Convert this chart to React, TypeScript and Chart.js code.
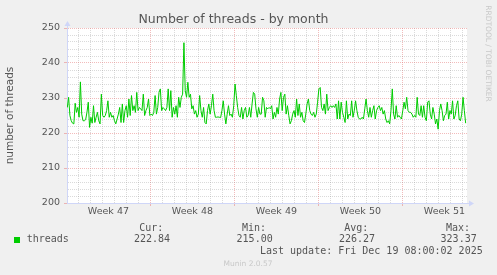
import React, { useEffect, useRef } from "react";
import { Chart, registerables } from "chart.js";

Chart.register(...registerables);

// ---------- data ----------
const TITLE = "Number of threads - by month";
const Y_TITLE = "number of threads";
const SERIES_NAME = "threads";
const WEEK_LABELS = ["Week 47", "Week 48", "Week 49", "Week 50", "Week 51"];
const Y_MIN = 200;
const Y_MAX = 250;
const STAT_NAMES = ["Cur:", "Min:", "Avg:", "Max:"];
const STAT_VALUES = ["222.84", "215.00", "226.27", "323.37"];
const LAST_UPDATE = "Last update: Fri Dec 19 08:00:02 2025";
const FOOTER = "Munin 2.0.57";
const SIDE_TEXT = "RRDTOOL / TOBI OETIKER";

// time axis in days from the left edge of the graph
const X_MAX_DAYS = 33.333;
const WEEK47_START_DAY = -0.05;
const FIRST_SAMPLE_DAY = 0.025;
const SAMPLE_STEP_DAYS = 0.1092;

const threads = [
  // week 47 / start of 48
  227.3, 230.2, 225.0, 223.5, 222.8, 222.6, 228.5, 225.9, 227.3, 224.5, 234.6, 225.4, 223.5, 223.5, 223.8,
  225.9, 228.8, 221.6, 224.5, 222.8, 227.8, 223.0, 224.5, 225.9, 223.5, 222.6, 231.1, 225.0, 224.5, 225.0,
  226.4, 229.2, 224.5, 225.9, 224.5, 225.0, 223.5, 222.6, 224.0, 225.4, 227.3, 223.0, 228.3, 223.0, 226.4,
  227.8, 224.5, 229.7, 225.0, 230.7, 226.4, 227.8, 225.9, 231.6, 226.4, 227.3, 226.9, 226.4, 231.1, 225.0,
  226.4, 227.3, 229.7, 225.0, 225.4, 225.0, 225.9, 230.7, 225.4, 227.3, 231.6, 232.6, 226.4, 227.3, 226.9,
  // week 48
  226.4, 227.3, 232.6, 226.4, 232.1, 224.5, 227.3, 225.4, 227.8, 224.5, 230.2, 227.3, 230.2, 231.1, 245.8,
  232.1, 230.2, 234.5, 230.2, 231.1, 226.9, 227.8, 225.4, 226.4, 224.5, 225.4, 230.7, 226.4, 224.5, 227.3,
  223.0, 222.6, 226.4, 228.3, 225.4, 227.8, 231.1, 226.4, 224.5, 224.5, 224.6, 224.5, 224.4, 226.4, 229.2,
  225.4, 222.6, 225.4, 227.8, 225.0, 225.4, 224.5, 227.8, 234.0, 230.7, 227.3, 225.0, 224.5, 227.3, 224.0,
  226.4, 227.3, 224.5, 225.0, 227.3, 224.5, 228.3, 231.6, 231.1, 226.9, 224.5, 227.3, 225.4, 225.4, 230.2,
  229.2, 224.5, 227.3, 226.9,
  // week 49 / 50
  227.3, 226.9, 227.8, 224.0, 225.9, 224.5, 227.3, 225.4, 229.7, 231.6, 226.4, 230.2, 231.1, 225.4, 227.8,
  225.0, 222.6, 223.5, 225.4, 226.4, 224.5, 229.7, 225.0, 228.3, 224.5, 225.9, 223.5, 223.0, 225.4, 228.3,
  229.7, 226.4, 225.4, 225.0, 225.9, 224.5, 225.4, 228.8, 232.6, 233.0, 227.3, 226.4, 228.3, 225.4, 231.1,
  226.4, 227.3, 227.8, 227.3, 227.8, 227.3, 228.3, 224.0, 229.2, 224.0, 228.8, 225.9, 224.5, 223.0, 229.2,
  224.0, 225.4, 225.0, 229.2, 224.5, 226.4, 229.2, 226.4, 224.5, 224.0, 224.0, 224.5, 224.0, 226.9, 229.7,
  226.4, 224.5, 227.3,
  // week 50 / 51
  224.5, 226.4, 227.8, 224.0, 226.4, 227.3, 227.8, 226.4, 227.3, 225.4, 226.4, 224.0, 223.0, 223.5, 222.6,
  226.4, 232.6, 225.4, 224.0, 227.8, 224.5, 225.0, 224.5, 224.0, 226.4, 228.8, 226.9, 230.2, 226.4, 225.9,
  225.9, 225.4, 224.5, 225.0, 224.5, 230.2, 225.4, 225.0, 227.8, 224.5, 227.8, 224.5, 223.5, 228.8, 229.2,
  225.4, 224.0, 227.3, 225.4, 222.6, 224.0, 221.1, 226.4, 228.3, 226.4, 223.5, 225.0, 225.4, 228.8, 224.0,
  226.4, 225.4, 229.2, 224.0, 225.0, 227.8, 229.2, 224.0, 223.5, 225.4, 230.2, 226.4, 222.8,
];

// ---------- style ----------
const FONT = "'DejaVu Sans', sans-serif";
const MONO = "'DejaVu Sans Mono', monospace";
const TEXT = "#555555";
const LIGHT = "#c8c8c8";
const AXIS = "#CFD6F8";
const MINOR_GRID = "rgba(140,140,140,0.32)";
const MAJOR_GRID = "rgba(230,120,120,0.5)";
const LINE = "#00CC00";

type XTick = { value: number; kind: "minor" | "major" | "label"; name?: string };

const bgPlugin = {
  id: "muninBg",
  beforeDraw(chart: any) {
    const { ctx, chartArea, width, height } = chart;
    ctx.save();
    ctx.fillStyle = "#F0F0F0";
    ctx.fillRect(0, 0, width, height);
    ctx.fillStyle = "#FFFFFF";
    ctx.fillRect(chartArea.left, chartArea.top, chartArea.right - chartArea.left, chartArea.bottom - chartArea.top);
    ctx.restore();
  },
};

const decorPlugin = {
  id: "muninDecor",
  afterDraw(chart: any) {
    const { ctx, chartArea } = chart;
    const L = chartArea.left + 0.5;
    const B = chartArea.bottom + 0.5;
    ctx.save();
    // axis arrows
    ctx.strokeStyle = AXIS;
    ctx.fillStyle = AXIS;
    ctx.lineWidth = 1;
    ctx.beginPath();
    ctx.moveTo(L, chartArea.top);
    ctx.lineTo(L, chartArea.top - 3);
    ctx.moveTo(chartArea.right, B);
    ctx.lineTo(chartArea.right + 3, B);
    ctx.stroke();
    ctx.beginPath();
    ctx.moveTo(L, chartArea.top - 7);
    ctx.lineTo(L - 3, chartArea.top - 2);
    ctx.lineTo(L + 3, chartArea.top - 2);
    ctx.closePath();
    ctx.fill();
    ctx.beginPath();
    ctx.moveTo(chartArea.right + 7, B);
    ctx.lineTo(chartArea.right + 2, B - 3);
    ctx.lineTo(chartArea.right + 2, B + 3);
    ctx.closePath();
    ctx.fill();

    // side credit
    ctx.save();
    ctx.translate(488, 53.5);
    ctx.rotate(Math.PI / 2);
    ctx.font = `7.5px ${FONT}`;
    ctx.fillStyle = LIGHT;
    ctx.textAlign = "center";
    ctx.textBaseline = "middle";
    ctx.fillText(SIDE_TEXT, 0, 0);
    ctx.restore();

    // legend
    ctx.fillStyle = LINE;
    ctx.fillRect(14, 237, 6, 6);
    ctx.font = `10px ${MONO}`;
    ctx.fillStyle = TEXT;
    ctx.textBaseline = "middle";
    ctx.textAlign = "left";
    ctx.fillText(SERIES_NAME, 26.7, 239.5);
    const nameRight = [163.3, 266, 368.3, 470];
    const valueRight = [170, 272.7, 375, 476.7];
    ctx.textAlign = "right";
    STAT_NAMES.forEach((n, i) => ctx.fillText(n, nameRight[i], 228.5));
    STAT_VALUES.forEach((v, i) => ctx.fillText(v, valueRight[i], 239.5));
    ctx.fillText(LAST_UPDATE, 482.7, 251.5);

    ctx.font = `7.5px ${FONT}`;
    ctx.fillStyle = LIGHT;
    ctx.textAlign = "center";
    ctx.fillText(FOOTER, 248, 264);
    ctx.restore();
  },
};

export default function App() {
  const ref = useRef<HTMLCanvasElement>(null);

  useEffect(() => {
    if (!ref.current) return;
    const points = threads.map((v, i) => ({ x: FIRST_SAMPLE_DAY + i * SAMPLE_STEP_DAYS, y: v }));

    const chart = new Chart(ref.current, {
      type: "line",
      data: {
        datasets: [
          {
            label: SERIES_NAME,
            data: points,
            borderColor: LINE,
            borderWidth: 1,
            pointRadius: 0,
            tension: 0,
            fill: false,
          },
        ],
      },
      options: {
        animation: false,
        responsive: false,
        devicePixelRatio: 1,
        layout: { padding: { left: 0, right: 30, top: 0, bottom: 0 } },
        plugins: {
          legend: { display: false },
          tooltip: { enabled: false },
          title: {
            display: true,
            text: TITLE,
            color: TEXT,
            font: { family: FONT, size: 12.5, weight: "normal", lineHeight: 1.2 },
            padding: { top: 12, bottom: 1 },
          },
        },
        scales: {
          x: {
            type: "linear",
            min: 0,
            max: X_MAX_DAYS,
            afterFit: (scale: any) => {
              scale.height = 72;
            },
            afterBuildTicks: (scale: any) => {
              const ticks: XTick[] = [];
              for (let k = 1; WEEK47_START_DAY + k < X_MAX_DAYS; k++) {
                ticks.push({ value: WEEK47_START_DAY + k, kind: k % 7 === 0 ? "major" : "minor" });
              }
              WEEK_LABELS.forEach((name, i) => {
                ticks.push({ value: WEEK47_START_DAY + 3.5 + 7 * i, kind: "label", name });
              });
              ticks.sort((a, b) => a.value - b.value);
              scale.ticks = ticks;
            },
            ticks: {
              autoSkip: false,
              maxRotation: 0,
              minRotation: 0,
              padding: 0,
              color: TEXT,
              font: { family: FONT, size: 9.5 },
              callback: (_v: any, i: number, ticks: any[]) => (ticks[i].kind === "label" ? ticks[i].name : ""),
            },
            grid: {
              lineWidth: 1,
              tickLength: 3,
              color: (c: any) =>
                c.tick && c.tick.kind === "major" ? MAJOR_GRID : c.tick && c.tick.kind === "minor" ? MINOR_GRID : "rgba(0,0,0,0)",
              tickColor: (c: any) => (c.tick && c.tick.kind === "major" ? MAJOR_GRID : "rgba(0,0,0,0)"),
            },
            border: { display: true, color: AXIS, width: 1, dash: [1, 1] },
          },
          y: {
            type: "linear",
            min: Y_MIN,
            max: Y_MAX,
            afterFit: (scale: any) => {
              scale.width = 67;
            },
            ticks: {
              stepSize: 2,
              autoSkip: false,
              padding: 4,
              color: TEXT,
              font: { family: FONT, size: 9.5 },
              callback: (v: any) => (Math.round(v) % 10 === 0 ? String(v) : ""),
            },
            grid: {
              lineWidth: 1,
              tickLength: 3,
              color: (c: any) => (c.tick && Math.round(c.tick.value) % 10 === 0 ? MAJOR_GRID : MINOR_GRID),
              tickColor: (c: any) => (c.tick && Math.round(c.tick.value) % 10 === 0 ? MAJOR_GRID : "rgba(0,0,0,0)"),
            },
            border: { display: true, color: AXIS, width: 1, dash: [1, 1] },
            title: {
              display: true,
              text: Y_TITLE,
              color: TEXT,
              font: { family: FONT, size: 10.5, lineHeight: 1.2 },
              padding: { top: 4, bottom: 0 },
            },
          },
        },
      },
      plugins: [bgPlugin, decorPlugin],
    } as any);

    return () => chart.destroy();
  }, []);

  return (
    <div style={{ position: "absolute", left: 0, top: 0, width: 497, height: 275, background: "#F0F0F0" }}>
      <canvas ref={ref} width={497} height={275} style={{ display: "block", width: 497, height: 275 }} />
    </div>
  );
}
